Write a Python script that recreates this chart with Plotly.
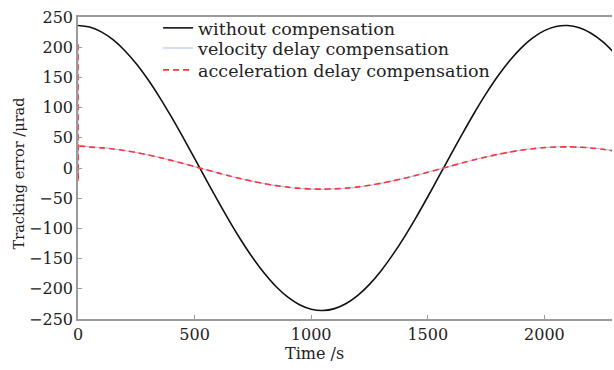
import plotly.graph_objects as go

# Time axis (s)
time_s = [0, 1, 3, 50, 100, 150, 200, 250, 300, 350, 400, 450, 500, 550, 600, 650, 700, 750,
          800, 850, 900, 950, 1000, 1050, 1100, 1150, 1200, 1250, 1300, 1350, 1400, 1450,
          1500, 1550, 1600, 1650, 1700, 1750, 1800, 1850, 1900, 1950, 2000, 2050, 2100,
          2150, 2200, 2250, 2300]

without_comp = [236.0, 236.0, 236.0, 233.3, 225.4, 212.4, 194.6, 172.5, 146.4, 117.0, 84.9, 51.0,
                16.0, -19.5, -54.5, -88.3, -120.0, -149.1, -174.8, -196.6, -213.9,
                -226.4, -233.8, -236.0, -232.8, -224.3, -210.8, -192.6, -170.0, -143.5,
                -113.9, -81.7, -47.6, -12.4, 23.0, 57.9, 91.5, 123.1, 151.8, 177.1, 198.5,
                215.4, 227.4, 234.3, 235.9, 232.2, 223.2, 209.2, 190.5]

velocity_comp = [205.0, -20.0, 35.2, 34.8, 33.6, 31.7, 29.0, 25.7, 21.8, 17.4, 12.7, 7.7, 2.4,
                 -2.9, -8.2, -13.2, -17.9, -22.2, -26.0, -29.3, -31.9, -33.8, -34.9,
                 -35.2, -34.7, -33.5, -31.5, -28.7, -25.4, -21.4, -17.0, -12.2, -7.1,
                 -1.8, 3.4, 8.6, 13.7, 18.4, 22.6, 26.4, 29.6, 32.1, 33.9, 34.9, 35.2,
                 34.6, 33.3, 31.2, 28.4]

acceleration_comp = [205.0, -20.0, 35.0, 34.6, 33.4, 31.5, 28.9, 25.6, 21.7, 17.3, 12.6, 7.6, 2.4,
                     -2.9, -8.1, -13.1, -17.8, -22.1, -25.9, -29.2, -31.7, -33.6, -34.7,
                     -35.0, -34.5, -33.3, -31.3, -28.6, -25.2, -21.3, -16.9, -12.1, -7.1,
                     -1.8, 3.4, 8.6, 13.6, 18.3, 22.5, 26.3, 29.4, 31.9, 33.7, 34.7, 35.0,
                     34.4, 33.1, 31.0, 28.3]

names = ["without compensation", "velocity delay compensation",
         "acceleration delay compensation"]
x_ticks = [0, 500, 1000, 1500, 2000]
y_ticks = [-250, -200, -150, -100, -50, 0, 50, 100, 150, 200, 250]

FONT = "DejaVu Serif"
TXT = "#222222"
AX = "#9a9a9a"

fig = go.Figure()
fig.add_trace(go.Scatter(x=time_s, y=without_comp, mode="lines", name=names[0], legend="legend",
                         line=dict(color="#111111", width=1.6, shape="spline", smoothing=0.8)))
fig.add_trace(go.Scatter(x=time_s, y=velocity_comp, mode="lines", name=names[1], legend="legend2",
                         line=dict(color="#b8c4ee", width=1.2, shape="spline", smoothing=0.8)))
fig.add_trace(go.Scatter(x=time_s, y=acceleration_comp, mode="lines", name=names[2],
                         legend="legend3",
                         line=dict(color="#ff3333", width=1.6, dash="6px,4px",
                                   shape="spline", smoothing=0.8)))

fig.update_xaxes(range=[0, 2290], tickvals=x_ticks, showline=True, linecolor=AX, linewidth=1.5,
                 mirror=True, ticks="inside", ticklen=4, tickcolor=AX, showgrid=False,
                 zeroline=False, tickfont=dict(family=FONT, size=16, color=TXT))
fig.update_yaxes(range=[-250, 250], tickvals=y_ticks,
                 ticktext=[str(v).replace("-", "\u2212") for v in y_ticks],
                 showline=True, linecolor=AX, linewidth=1.5, mirror=False,
                 ticks="inside", ticklen=4, tickcolor=AX, showgrid=False, zeroline=False,
                 tickfont=dict(family=FONT, size=16, color=TXT))

legend_common = dict(x=0.15, xanchor="left", yanchor="middle", bgcolor="rgba(0,0,0,0)",
                     font=dict(family=FONT, size=17.5, color=TXT), itemwidth=30)

fig.update_layout(
    width=614, height=370,
    margin=dict(l=78, r=2, t=17, b=51),
    paper_bgcolor="white", plot_bgcolor="white",
    font=dict(family=FONT, size=16, color=TXT),
    legend=dict(y=0.9636, **legend_common),
    legend2=dict(y=0.897, **legend_common),
    legend3=dict(y=0.8245, **legend_common),
    showlegend=True,
    annotations=[
        dict(text="Time /s", xref="paper", yref="paper", x=0.442, y=-0.075,
             xanchor="center", yanchor="top", showarrow=False,
             font=dict(family=FONT, size=16, color=TXT)),
        dict(text="Tracking error /\u03bcrad", xref="paper", yref="paper", x=-0.110, y=0.483,
             xanchor="center", yanchor="middle", textangle=-90, showarrow=False,
             font=dict(family=FONT, size=14.5, color=TXT)),
    ],
)

fig.write_html("out.html")
